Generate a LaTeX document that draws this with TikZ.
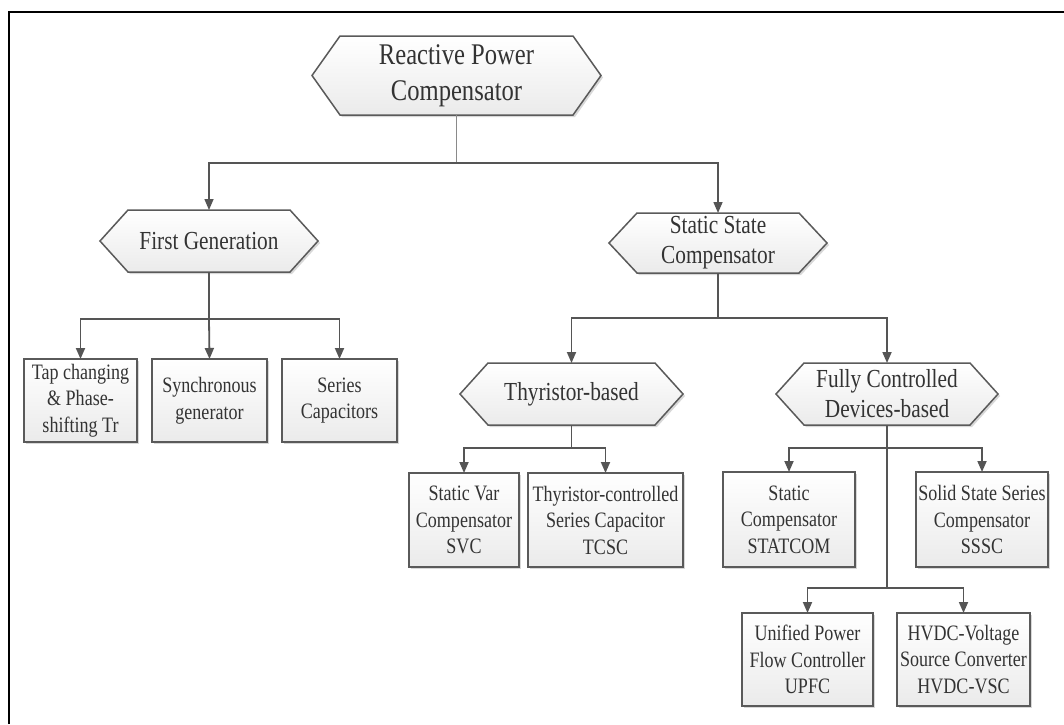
\documentclass[tikz,border=0pt]{standalone}
\usepackage{fontspec}
\setmainfont{Liberation Serif}[FakeStretch=0.82]
\usetikzlibrary{arrows.meta,shadows}
\definecolor{txt}{HTML}{333333}
\definecolor{edge}{HTML}{5A5A5A}
\definecolor{lin}{HTML}{555555}
\definecolor{lightlin}{HTML}{8A8A8A}
\tikzset{
  shapefill/.style={draw=edge, line width=1.5pt, top color=white, bottom color=gray!16,
    drop shadow={shadow xshift=2pt, shadow yshift=-2pt, fill=gray!60, opacity=.5}},
  hextext/.style={inner sep=0pt, outer sep=0pt, align=center, text=txt},
  boxnd/.style={shapefill, inner sep=0pt, outer sep=0pt, align=center, text=txt,
    font=\fontsize{22}{26.5}\selectfont},
  conn/.style={draw=lin, line width=1.8pt},
  arr/.style={conn, -{Triangle[length=11pt,width=9pt]}},
  rootconn/.style={draw=lightlin, line width=1.5pt},
  rootarr/.style={rootconn, -{Triangle[length=11pt,width=9pt]}, draw=lin},
}
% #1 name, #2 cx, #3 cy, #4 half width, #5 half height, #6 point offset, #7 font, #8 text
\newcommand\hexnode[8]{%
  \path[shapefill] ({#2-#4},#3) -- ({#2-#4+#6},{#3-#5}) -- ({#2+#4-#6},{#3-#5}) -- ({#2+#4},#3)
     -- ({#2+#4-#6},{#3+#5}) -- ({#2-#4+#6},{#3+#5}) -- cycle;
  \node[hextext, font=#7, minimum width={2*#4*1pt}, minimum height={2*#5*1pt}] (#1) at (#2,#3) {#8};
}
% #1 name, #2 x1, #3 y1, #4 x2, #5 y2, #6 text
\newcommand\boxnode[6]{%
  \node[boxnd, minimum width={(#4-#2)*1pt}, minimum height={(#5-#3)*1pt}] (#1) at ({(#2+#4)/2},{(#3+#5)/2}) {#6};
}
\begin{document}
\begin{tikzpicture}[x=1pt,y=-1pt]
\useasboundingbox (0,0) rectangle (1064,724);
\fill[white] (0,0) rectangle (1064,724);
% frame
\draw[line width=2.5pt] (9,724) -- (9,12) -- (1064,12);

% hexagons
\hexnode{root}{456.5}{75.5}{144.5}{39.5}{28}{\fontsize{30}{36}\selectfont}{Reactive Power\\Compensator}
\hexnode{fg}{209}{241}{109}{31}{28}{\fontsize{26}{31}\selectfont}{First Generation}
\hexnode{ss}{718}{243}{109}{30}{28}{\fontsize{26}{30}\selectfont}{Static State\\Compensator}
\hexnode{thy}{571.5}{394}{111.5}{31}{28}{\fontsize{26}{31}\selectfont}{Thyristor-based}
\hexnode{fc}{887}{394}{111}{31}{28}{\fontsize{26}{30}\selectfont}{Fully Controlled\\Devices-based}

% boxes
\boxnode{tap}{24}{359}{137}{442}{Tap changing\\\& Phase-\\shifting Tr}
\boxnode{sync}{152}{359}{267}{442}{Synchronous\\generator}
\boxnode{ser}{282}{359}{397}{442}{Series\\Capacitors}
\boxnode{svc}{409}{473}{519}{567}{Static Var\\Compensator\\SVC}
\boxnode{tcsc}{528}{473}{683}{567}{Thyristor-controlled\\Series Capacitor\\TCSC}
\boxnode{statcom}{723}{472}{855}{567}{Static\\Compensator\\STATCOM}
\boxnode{sssc}{916}{472}{1048}{567}{Solid State Series\\Compensator\\SSSC}
\boxnode{upfc}{742}{613}{873}{706}{Unified Power\\Flow Controller\\UPFC}
\boxnode{hvdc}{897}{613}{1030}{706}{HVDC-Voltage\\Source Converter\\HVDC-VSC}

% connectors
\path (root.south) ++(0,48) coordinate (b1);
\draw[rootconn] (root.south) -- (b1);
\draw[rootarr] (b1) -| (fg.north);
\draw[rootarr] (b1) -| (ss.north);

\path (fg.south) ++(0,47) coordinate (b2);
\draw[conn] (fg.south) -- (b2);
\draw[arr] (b2) -| (tap.north);
\draw[arr] (b2) -- (sync.north);
\draw[arr] (b2) -| (ser.north);

\path (ss.south) ++(0,45) coordinate (b3);
\draw[conn] (ss.south) -- (b3);
\draw[arr] (b3) -| (thy.north);
\draw[arr] (b3) -| (fc.north);

\path (thy.south) ++(0,23) coordinate (b4);
\draw[conn] (thy.south) -- (b4);
\draw[arr] (b4) -| (svc.north);
\draw[arr] (b4) -| (tcsc.north);

\path (fc.south) ++(0,23) coordinate (b5);
\path (fc.south) ++(0,163) coordinate (b6);
\draw[conn] (fc.south) -- (b6);
\draw[arr] (b5) -| (statcom.north);
\draw[arr] (b5) -| (sssc.north);
\draw[arr] (b6) -| (upfc.north);
\draw[arr] (b6) -| (hvdc.north);
\end{tikzpicture}
\end{document}
